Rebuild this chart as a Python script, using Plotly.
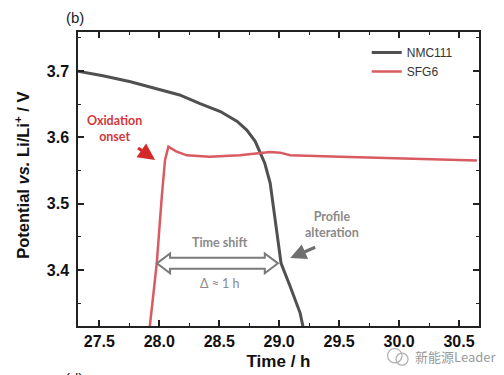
import plotly.graph_objects as go

# NMC111 curve (time / h, potential / V)
nmc_time = [27.32, 27.53, 27.76, 28.01, 28.17, 28.34, 28.51, 28.65, 28.73, 28.80,
            28.84, 28.88, 28.925, 28.966, 28.994, 29.016, 29.092, 29.175, 29.21]
nmc_pot = [3.700, 3.693, 3.684, 3.672, 3.664, 3.651, 3.639, 3.624, 3.611, 3.594,
           3.578, 3.561, 3.531, 3.480, 3.445, 3.410, 3.375, 3.335, 3.305]

# SFG6 curve
sfg_time = [27.915, 27.979, 28.021, 28.048, 28.076, 28.14, 28.23, 28.42, 28.67,
            28.84, 28.925, 29.008, 29.092, 29.51, 30.07, 30.65]
sfg_pot = [3.305, 3.410, 3.511, 3.566, 3.586, 3.579, 3.573, 3.571, 3.573,
           3.577, 3.578, 3.577, 3.573, 3.571, 3.568, 3.565]

x_ticks = [27.5, 28.0, 28.5, 29.0, 29.5, 30.0, 30.5]
y_ticks = [3.4, 3.5, 3.6, 3.7]

# time-shift arrow (data coords)
shift_start, shift_end, shift_y = 27.98, 28.99, 3.410

fig = go.Figure()
fig.add_trace(go.Scatter(x=nmc_time, y=nmc_pot, mode="lines", name="NMC111",
                         line=dict(color="#505050", width=3)))
fig.add_trace(go.Scatter(x=sfg_time, y=sfg_pot, mode="lines", name="SFG6",
                         line=dict(color="#d95a61", width=2.5)))

# hollow double arrow
hl, H, h = 0.11, 0.015, 0.0083
a, b, yc = shift_start, shift_end, shift_y
path = (f"M {a},{yc} L {a+hl},{yc+H} L {a+hl},{yc+h} L {b-hl},{yc+h} L {b-hl},{yc+H} "
        f"L {b},{yc} L {b-hl},{yc-H} L {b-hl},{yc-h} L {a+hl},{yc-h} L {a+hl},{yc-H} Z")
fig.add_shape(type="path", path=path, xref="x", yref="y",
              line=dict(color="#7a7a7a", width=2), fillcolor="white")

# small chat-bubble icon next to the watermark
for cx, cy, r in [(0.79, -0.101, 0.018), (0.808, -0.113, 0.015)]:
    fig.add_shape(type="circle", xref="paper", yref="paper",
                  x0=cx - r, x1=cx + r, y0=cy - r * 1.36, y1=cy + r * 1.36,
                  line=dict(color="#b0b0b0", width=1.2), fillcolor="rgba(0,0,0,0)")

ann_font = "Lato, Open Sans, sans-serif"
annotations = [
    dict(x=27.63, y=3.614, text="<b>Oxidation<br>onset</b>", showarrow=False,
         font=dict(family=ann_font, size=12.5, color="#d0393b")),
    dict(x=27.965, y=3.566, ax=-20, ay=-14, text=" ", showarrow=True, arrowhead=2,
         arrowsize=1.05, arrowwidth=3.2, arrowcolor="#d42a2a"),
    dict(x=28.507, y=3.441, text="<b>Time shift</b>", showarrow=False,
         font=dict(family=ann_font, size=12.5, color="#8a8a8a")),
    dict(x=28.507, y=3.380, text="Δ ≈ 1 h", showarrow=False,
         font=dict(family=ann_font, size=12.5, color="#8a8a8a")),
    dict(x=29.44, y=3.469, text="<b>Profile<br>alteration</b>", showarrow=False,
         font=dict(family=ann_font, size=12.5, color="#8a8a8a")),
    dict(x=29.092, y=3.418, ax=28, ay=-12, text=" ", showarrow=True, arrowhead=2,
         arrowsize=1.0, arrowwidth=3.2, arrowcolor="#6f6f6f"),
    dict(x=-0.035, y=1.05, xref="paper", yref="paper", xanchor="left", yanchor="middle",
         text="(b)", showarrow=False,
         font=dict(family="Liberation Sans, Arial", size=15, color="#222")),
    dict(x=-0.037, y=-0.143, xref="paper", yref="paper", xanchor="left", yanchor="top",
         text="(d)", showarrow=False,
         font=dict(family="Liberation Sans, Arial", size=15, color="#222")),
    dict(x=0.835, y=-0.105, xref="paper", yref="paper", xanchor="left", yanchor="middle",
         text="新能源Leader", showarrow=False,
         font=dict(family="Noto Sans CJK SC", size=13, color="#9a9a9a")),
    dict(x=-0.14, y=0.514, xref="paper", yref="paper", xanchor="center", yanchor="middle",
         textangle=-90, showarrow=False,
         text="<b>Potential <i>vs.</i> Li/Li<sup>+</sup> / V</b>",
         font=dict(family="Liberation Sans, Arial", size=16.5, color="#111")),
]

# page body has an 8px margin, so the figure is sized to end at the window edge
fig.update_layout(
    width=496, height=367,
    margin=dict(l=70, r=25, t=24, b=49, autoexpand=False),
    paper_bgcolor="white", plot_bgcolor="white",
    font=dict(family="Liberation Sans, Arial", color="#111"),
    showlegend=True,
    legend=dict(x=0.72, y=0.98, xanchor="left", yanchor="top",
                bgcolor="rgba(0,0,0,0)", font=dict(size=12, color="#333"),
                itemwidth=30, tracegroupgap=0),
    annotations=annotations,
)
fig.update_xaxes(range=[27.322, 30.667], tickvals=x_ticks,
                 ticktext=[f"{v:.1f}" for v in x_ticks],
                 ticks="inside", ticklen=6, tickwidth=1.5, tickcolor="#222",
                 minor=dict(dtick=0.25, tick0=27.25, ticks="inside", ticklen=3, tickwidth=1.2, tickcolor="#222"),
                 showline=True, linecolor="#222", linewidth=1.5, mirror="allticks",
                 showgrid=False, zeroline=False,
                 tickfont=dict(size=16, color="#111", family="Liberation Sans, Arial", weight="bold"),
                 title=dict(text="<b>Time / h</b>", font=dict(size=17), standoff=6))
fig.update_yaxes(range=[3.3155, 3.759], tickvals=y_ticks,
                 ticktext=[f"{v:.1f}" for v in y_ticks],
                 ticks="inside", ticklen=6, tickwidth=1.5, tickcolor="#222",
                 ticklabelstandoff=4,
                 minor=dict(dtick=0.05, tick0=3.35, ticks="inside", ticklen=3, tickwidth=1.2, tickcolor="#222"),
                 showline=True, linecolor="#222", linewidth=1.5, mirror="allticks",
                 showgrid=False, zeroline=False,
                 tickfont=dict(size=16, color="#111", family="Liberation Sans, Arial", weight="bold"))

fig.write_html("out.html")
